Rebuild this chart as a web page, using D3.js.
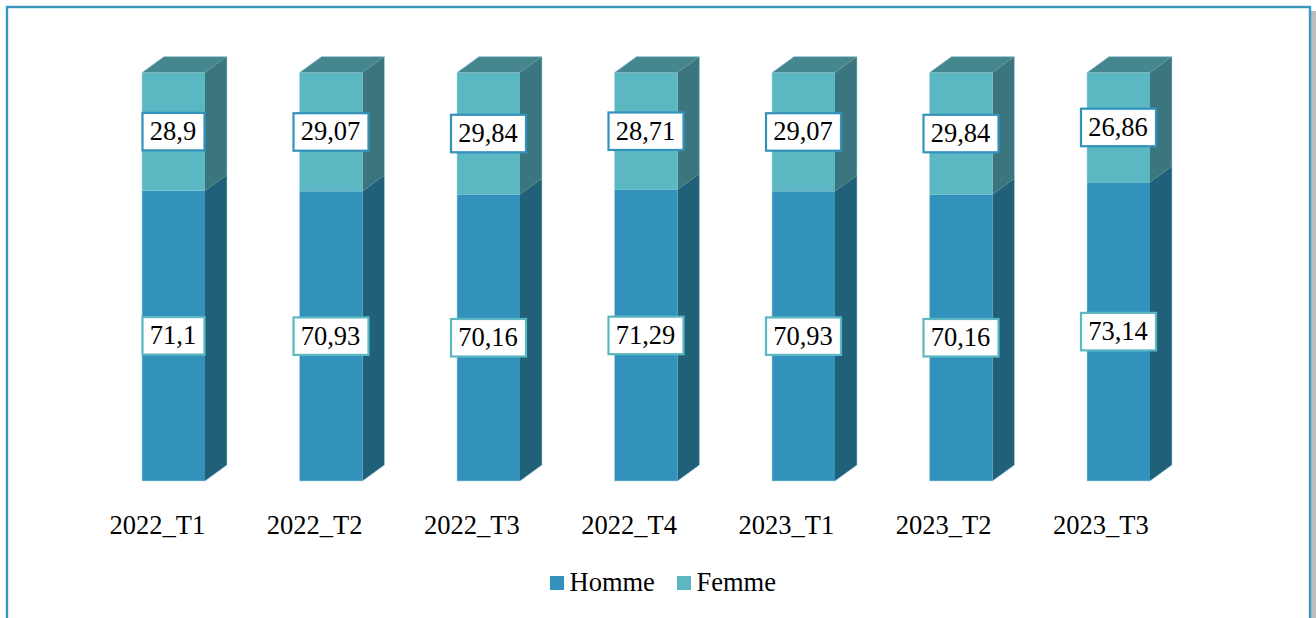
<!DOCTYPE html>
<html><head><meta charset="utf-8">
<script src="https://cdn.jsdelivr.net/npm/d3@7"></script>
<style>html,body{margin:0;padding:0;background:#fff;overflow:hidden}svg{display:block}text{font-family:"Liberation Serif","Times New Roman",serif;fill:#000}</style>
</head><body><svg id="c" width="1316" height="618"></svg>
<script>
const categories=["2022_T1","2022_T2","2022_T3","2022_T4","2023_T1","2023_T2","2023_T3"];
const homme=[71.1,70.93,70.16,71.29,70.93,70.16,73.14];
const femme=[28.9,29.07,29.84,28.71,29.07,29.84,26.86];
const hommeLabels=["71,1","70,93","70,16","71,29","70,93","70,16","73,14"];
const femmeLabels=["28,9","29,07","29,84","28,71","29,07","29,84","26,86"];
const seriesNames=["Homme","Femme"];
const colors={Homme:"#3392bc",Femme:"#5bb8c2"};
const sideColors={Homme:"#216079",Femme:"#3b767e"};
const topColor="#46868e";

const svg=d3.select("#c");
const W=63,DX=22,DY=16,FS=26.5;
const x=d3.scalePoint().domain(categories).range([142,1087]);
const xLabel=d3.scalePoint().domain(categories).range([157.4,1100.8]);
const y=d3.scaleLinear().domain([0,100]).range([481,72.6]);

// frame with shadow
svg.append("rect").attr("x",1311).attr("y",11).attr("width",5).attr("height",607).attr("fill","#bdbdbd");
svg.append("rect").attr("x",7).attr("y",7).attr("width",1303).attr("height",640).attr("fill","#fff").attr("stroke","#3a97c0").attr("stroke-width",2.4);

const rows=categories.map((c,i)=>({c,i,h:homme[i],f:femme[i]}));
const g=svg.append("g");
rows.forEach(d=>{
  const x0=x(d.c),b=g.append("g");
  const segs=[{n:"Homme",a:0,z:d.h},{n:"Femme",a:d.h,z:d.h+d.f}];
  segs.forEach(s=>{
    const ya=y(s.a),yz=y(s.z);
    b.append("polygon").attr("points",[[x0+W,ya],[x0+W+DX,ya-DY],[x0+W+DX,yz-DY],[x0+W,yz]].join(" "))
      .attr("fill",sideColors[s.n]);
    b.append("rect").attr("x",x0).attr("y",yz).attr("width",W).attr("height",ya-yz)
      .attr("fill",colors[s.n]);
  });
  const yt=y(d.h+d.f);
  b.append("polygon").attr("points",[[x0,yt],[x0+DX,yt-DY],[x0+W+DX,yt-DY],[x0+W,yt]].join(" ")).attr("fill",topColor);
  b.append("path").attr("d",`M${x0},${y(0)}H${x0+W}L${x0+W+DX},${y(0)-DY}V${yt-DY}`).attr("fill","none").attr("stroke","#a9d6e0").attr("stroke-width",0.8).attr("stroke-opacity",.7);
  b.append("path").attr("d",`M${x0},${y(0)}V${yt}L${x0+DX},${yt-DY}H${x0+W+DX}`).attr("fill","none").attr("stroke","#a9d6e0").attr("stroke-width",0.8).attr("stroke-opacity",.7);
});

function label(cx,cy,t,border){
  const w=t.length>4?75:62,h=37.5;
  g.append("rect").attr("x",cx-w/2).attr("y",cy-h/2).attr("width",w).attr("height",h).attr("fill","#fff").attr("stroke",border).attr("stroke-width",2.2);
  g.append("text").attr("x",cx-0.5).attr("y",cy+8.5).attr("text-anchor","middle").attr("font-size",FS).text(t);
}
rows.forEach(d=>{
  const cx=x(d.c)+W/2;
  label(cx,y(d.h+d.f/2),femmeLabels[d.i],colors.Homme);
  label(cx,y(d.h/2),hommeLabels[d.i],colors.Femme);
});

// category labels
svg.append("g").selectAll("text").data(categories).join("text")
  .attr("x",c=>xLabel(c)).attr("y",533.5).attr("text-anchor","middle").attr("font-size",FS).text(c=>c);

// legend
const legendX=d3.scaleOrdinal().domain(seriesNames).range([550,677]);
const lg=svg.append("g").selectAll("g").data(seriesNames).join("g").attr("transform",n=>`translate(${legendX(n)},576)`);
lg.append("rect").attr("width",14).attr("height",14).attr("fill",n=>colors[n]);
lg.append("text").attr("x",19.5).attr("y",15).attr("font-size",FS).text(n=>n);
</script></body></html>
